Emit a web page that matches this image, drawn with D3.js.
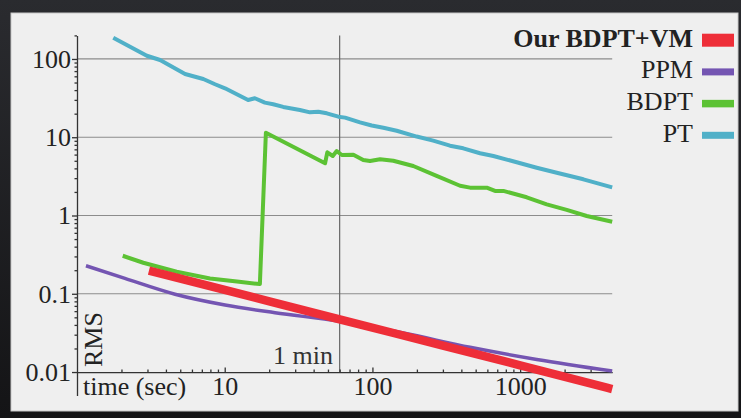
<!DOCTYPE html>
<html>
<head>
<meta charset="utf-8">
<script src="https://cdn.jsdelivr.net/npm/d3@7"></script>
<style>
  body { margin: 0; background: #1b1b1e; }
  svg { display: block; }
  text { font-family: "Liberation Serif", "Times New Roman", serif; }
</style>
</head>
<body>
<svg id="chart" width="741" height="418"></svg>
<script>
// values (time in sec, RMS error)
const ptTime = [1.76, 2.97, 3.65, 5.39, 7.16, 8.6, 10.05, 14.4, 16.0, 18.7, 21.3, 24.9, 32.3, 37.8, 43.0, 49.1, 58.8, 65.3, 82.4, 98.9, 118.6, 146, 199.5, 258, 335, 412, 535, 659, 948, 1295, 1770, 2680, 4200]
const ptRms = [187, 110, 97, 64.3, 55.5, 47.5, 42.2, 29.9, 31.5, 27.7, 26.4, 24.4, 22.3, 20.8, 21.2, 20.2, 18.3, 17.8, 15.5, 14.1, 13.2, 12.1, 10.2, 9.04, 7.8, 7.22, 6.24, 5.76, 4.79, 4.08, 3.52, 2.9, 2.29]

const bdptTime = [2.04, 2.81, 4.73, 7.95, 12.1, 17.3, 19.0, 47.8, 49.5, 53.9, 57.3, 62.0, 74.3, 86.7, 96.3, 112.6, 138.5, 189, 272, 392, 458, 594, 676, 770, 1108, 1514, 2067, 2825, 4200]
const bdptRms = [0.306, 0.249, 0.191, 0.157, 0.143, 0.133, 11.4, 4.65, 6.42, 5.76, 6.67, 5.93, 5.98, 5.12, 4.97, 5.23, 5.01, 4.29, 3.2, 2.4, 2.27, 2.27, 2.06, 2.06, 1.71, 1.39, 1.18, 0.986, 0.833]

const ppmTime = [1.15, 2.11, 4.61, 10.05, 21.9, 60, 162, 458, 1295, 4200]
const ppmRms = [0.228, 0.157, 0.0986, 0.0718, 0.0573, 0.0445, 0.0315, 0.0207, 0.0145, 0.0103]

const vmTime = [3.07, 10, 60, 300, 1000, 4200]
const vmRms = [0.198, 0.112, 0.0471, 0.0218, 0.0122, 0.00606]

const legendNames = ['Our BDPT+VM', 'PPM', 'BDPT', 'PT']
const yTickValues = [0.01, 0.1, 1, 10, 100]
const yTickLabels = ['0.01', '0.1', '1', '10', '100']
const xTickValues = [10, 100, 1000]
const xTickLabels = ['10', '100', '1000']
const gridValues = [0.1, 1, 10, 100]
const minuteMark = 60

const colors = { vm: '#ee2e38', ppm: '#7455b2', bdpt: '#5cc234', pt: '#50b0c8' }

const svg = d3.select('#chart')

// dark surround + light panel
const grad = svg.append('defs').append('linearGradient')
  .attr('id', 'bg').attr('x1', 0).attr('y1', 0).attr('x2', 0).attr('y2', 1)
grad.append('stop').attr('offset', 0).attr('stop-color', '#2a2b2f')
grad.append('stop').attr('offset', 1).attr('stop-color', '#141416')
svg.append('rect').attr('width', 741).attr('height', 418).attr('fill', 'url(#bg)')
svg.append('rect').attr('x', 11).attr('y', 13).attr('width', 727).attr('height', 398)
  .attr('fill', '#efefef').attr('stroke', '#c8c8c8')

const x = d3.scaleLog().domain([1, 4200]).range([77, 612.2])
const y = d3.scaleLog().domain([0.005, 200]).range([395.6, 35.4])

// grid
svg.append('g').selectAll('line').data(gridValues).join('line')
  .attr('x1', x(1)).attr('x2', x(4200))
  .attr('y1', d => y(d)).attr('y2', d => y(d))
  .attr('stroke', '#8c8c8c').attr('stroke-width', 1.2)

svg.append('line')
  .attr('x1', x(minuteMark)).attr('x2', x(minuteMark))
  .attr('y1', y(200)).attr('y2', y(0.01))
  .attr('stroke', '#666').attr('stroke-width', 1.2)

// minor tick values (2..9 of each decade)
let yMinor = []
for (let e = -2; e <= 2; e++) {
  for (let m = 2; m <= 9; m++) {
    let v = m * Math.pow(10, e)
    if (v <= 200) yMinor.push(v)
  }
}
let xMinor = []
for (let e = 0; e <= 3; e++) {
  for (let m = 2; m <= 9; m++) {
    let v = m * Math.pow(10, e)
    if (v <= 4200) xMinor.push(v)
  }
}

// y axis
svg.append('g')
  .attr('transform', `translate(${x(1)},0)`)
  .call(d3.axisLeft(y).tickValues(yTickValues)
    .tickFormat((d, i) => yTickLabels[i]).tickSize(5).tickSizeOuter(0).tickPadding(1))
svg.append('g')
  .attr('transform', `translate(${x(1)},0)`)
  .call(d3.axisLeft(y).tickValues(yMinor).tickFormat('').tickSize(2.5))
  .call(g => g.select('.domain').remove())

// x axis, sitting on 0.01
svg.append('g')
  .attr('transform', `translate(0,${y(0.01)})`)
  .call(d3.axisBottom(x).tickValues(xTickValues)
    .tickFormat((d, i) => xTickLabels[i]).tickSizeInner(-4.5).tickSizeOuter(0).tickPadding(4.5))
svg.append('g')
  .attr('transform', `translate(0,${y(0.01)})`)
  .call(d3.axisBottom(x).tickValues(xMinor).tickFormat('').tickSizeInner(-2.5))
  .call(g => g.select('.domain').remove())

svg.selectAll('.tick text')
  .attr('font-family', '"Liberation Serif", serif')
  .attr('font-size', 26)
  .attr('fill', '#222')
svg.selectAll('.tick line, .domain').attr('stroke', '#333').attr('stroke-width', 1.3)

// axis labels
svg.append('text').attr('x', 83).attr('y', 395)
  .attr('font-size', 26).attr('fill', '#222').text('time (sec)')
svg.append('text').attr('transform', 'translate(102,367) rotate(-90)')
  .attr('font-size', 26).attr('fill', '#222').text('RMS')
svg.append('text').attr('x', 333).attr('y', 364).attr('text-anchor', 'end')
  .attr('font-size', 26).attr('fill', '#333').text('1 min')

// lines
function drawSeries (times, values, color, width, curve) {
  const pts = times.map((t, i) => [t, values[i]])
  const gen = d3.line().x(d => x(d[0])).y(d => y(d[1])).curve(curve || d3.curveLinear)
  svg.append('path').datum(pts)
    .attr('d', gen)
    .attr('fill', 'none')
    .attr('stroke', color)
    .attr('stroke-width', width)
    .attr('stroke-linejoin', 'round')
}

drawSeries(ptTime, ptRms, colors.pt, 4)
drawSeries(bdptTime, bdptRms, colors.bdpt, 4)
drawSeries(ppmTime, ppmRms, colors.ppm, 3.5, d3.curveMonotoneX)
drawSeries(vmTime, vmRms, colors.vm, 8.5, d3.curveMonotoneX)

// legend
const legendColors = [colors.vm, colors.ppm, colors.bdpt, colors.pt]
const swatchH = [13, 7, 7.5, 7]
const legend = svg.append('g')
legendNames.forEach((name, i) => {
  const base = 46.7 + i * 31.7
  legend.append('text')
    .attr('x', 693).attr('y', base)
    .attr('text-anchor', 'end')
    .attr('font-size', 26)
    .attr('font-weight', i === 0 ? 'bold' : 'normal')
    .attr('fill', '#222')
    .text(name)
  legend.append('rect')
    .attr('x', 702).attr('width', 32)
    .attr('y', base - 6.5 - swatchH[i] / 2).attr('height', swatchH[i])
    .attr('fill', legendColors[i])
})
</script>
</body>
</html>
